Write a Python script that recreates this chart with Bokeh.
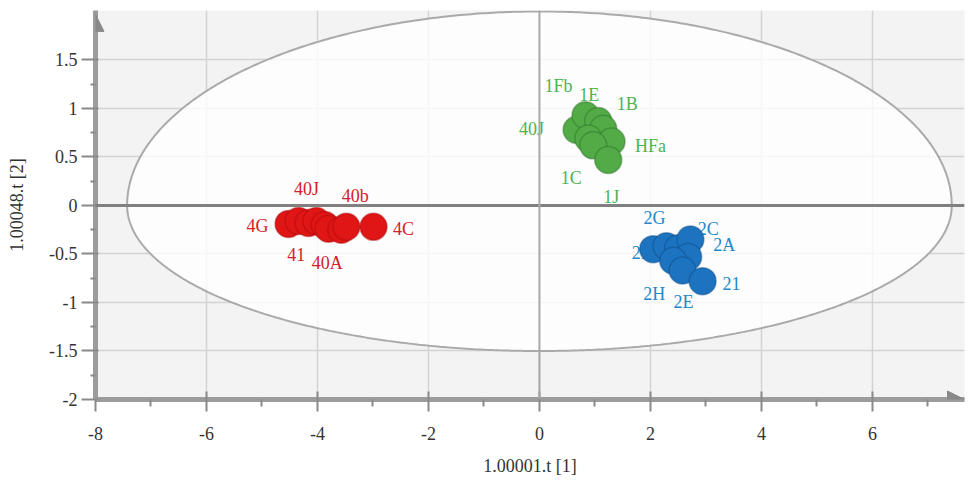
import numpy as np
from bokeh.plotting import figure
from bokeh.models import (FixedTicker, CustomJSTickFormatter, Span, Arrow,
                          NormalHead, ColumnDataSource)
from bokeh.embed import file_html
from bokeh.resources import INLINE
from bokeh.core.properties import value

# ---------------- data ----------------
red_names = ["4G", "", "40J", "41", "", "", "40A", "40b", "4C"]
red_x = [-4.52, -4.34, -4.16, -4.02, -3.87, -3.80, -3.57, -3.48, -2.99]
red_y = [-0.19, -0.16, -0.18, -0.16, -0.20, -0.24, -0.25, -0.22, -0.22]

green_names = ["40J", "1Fb", "1E", "1B", "", "HFa", "1C", "1J"]
green_x = [0.67, 0.83, 1.06, 1.15, 0.88, 1.30, 0.97, 1.24]
green_y = [0.78, 0.93, 0.87, 0.79, 0.69, 0.66, 0.62, 0.47]

blue_names = ["2I", "2G", "", "2C", "2A", "2H", "2E", "21"]
blue_x = [2.05, 2.29, 2.50, 2.72, 2.68, 2.41, 2.58, 2.94]
blue_y = [-0.45, -0.42, -0.44, -0.35, -0.53, -0.57, -0.67, -0.78]

x_ticks = [-8, -6, -4, -2, 0, 2, 4, 6]
x_minor = [-7, -5, -3, -1, 1, 3, 5, 7]
y_ticks = [-2, -1.5, -1, -0.5, 0, 0.5, 1, 1.5]
y_minor = [-1.75, -1.25, -0.75, -0.25, 0.25, 0.75, 1.25]

x_label = "1.00001.t [1]"
y_label = "1.00048.t [2]"

# ellipse (confidence region) parameters
ell_cx, ell_cy = 0.0, 0.0
ell_rx = 7.43
ell_ry_top, ell_ry_bottom = 2.0, 1.5

# axis extents
x_min, x_max = -8, 7.66
y_min, y_max = -2, 2.01

# ---------------- label offsets (px) ----------------
red_dx = [-31, 0, -2, -20, 0, 0, -14, 9, 30]
red_dy = [2, 0, -34, 33, 0, 0, 33, -31, 2]
green_dx = [-45, -27, -9, 24, 0, 39, -22, 3]
green_dy = [-1, -29, -26, -25, 0, 5, 33, 37]
blue_dx = [-14, -12, 0, 18, 36, -19, 1, 29]
blue_dy = [4, -28, 0, -10, -12, 33, 32, 2]

FONT = "Liberation Serif"

p = figure(width=965, height=481, output_backend="svg", toolbar_location=None,
           x_range=(x_min, x_max), y_range=(y_min, y_max),
           min_border_left=95, min_border_right=1, min_border_top=10,
           min_border_bottom=82)
p.background_fill_color = "#f3f3f3"
p.border_fill_color = "white"
p.outline_line_color = None

# axes
for ax in (p.xaxis[0], p.yaxis[0]):
    ax.axis_line_color = "#9c9c9c"
    ax.axis_line_width = 5
    ax.major_tick_line_color = "#8a8a8a"
    ax.major_tick_line_width = 2
    ax.minor_tick_line_color = "#8a8a8a"
    ax.minor_tick_line_width = 2
    ax.major_label_text_font = FONT
    ax.major_label_text_font_size = "18px"
    ax.major_label_text_color = "#333333"
    ax.axis_label_text_font = FONT
    ax.axis_label_text_font_size = "18px"
    ax.axis_label_text_font_style = "normal"
    ax.axis_label_text_color = "#333333"
    ax.formatter = CustomJSTickFormatter(code="return tick.toString();")

p.xaxis.ticker = FixedTicker(ticks=x_ticks, minor_ticks=x_minor)
p.yaxis.ticker = FixedTicker(ticks=y_ticks, minor_ticks=y_minor)
p.xaxis.axis_label = x_label
p.yaxis.axis_label = y_label

p.xaxis.major_tick_out = 12
p.xaxis.major_tick_in = 8
p.xaxis.minor_tick_out = 7
p.xaxis.minor_tick_in = 0
p.xaxis.major_label_standoff = 15
p.xaxis.axis_label_standoff = 13

p.yaxis.major_tick_out = 14
p.yaxis.major_tick_in = 3
p.yaxis.minor_tick_out = 5
p.yaxis.minor_tick_in = 0
p.yaxis.major_label_standoff = 4
p.yaxis.axis_label_standoff = 19

p.xgrid.grid_line_color = "#d3d3d3"
p.xgrid.grid_line_width = 1.5
p.ygrid.grid_line_color = "#d3d3d3"
p.ygrid.grid_line_width = 1.5

# ellipse
t = np.linspace(0, 2 * np.pi, 721)
s = np.sin(t)
ex = ell_cx + ell_rx * np.cos(t)
ey = ell_cy + np.where(s >= 0, ell_ry_top, ell_ry_bottom) * s
p.patch(ex, ey, fill_color="white", fill_alpha=0.8,
        line_color="#aaaaaa", line_width=2)

# zero lines
p.add_layout(Span(location=0, dimension="width", line_color="#808080", line_width=3))
p.add_layout(Span(location=0, dimension="height", line_color="#a8a8a8", line_width=2))

# arrow heads on axes
p.add_layout(Arrow(end=NormalHead(size=17, fill_color="#888888", line_color="#888888"),
                   x_start=x_max - 0.4, y_start=y_min, x_end=x_max, y_end=y_min,
                   line_alpha=0))
p.add_layout(Arrow(end=NormalHead(size=17, fill_color="#888888", line_color="#888888"),
                   x_start=x_min, y_start=y_max - 0.3, x_end=x_min, y_end=y_max - 0.04,
                   line_alpha=0))

groups = [
    (red_names, red_x, red_y, red_dx, red_dy, "#e01515", "#a80c0c", "#d4202a"),
    (green_names, green_x, green_y, green_dx, green_dy, "#52ab46", "#2c7228", "#4cb450"),
    (blue_names, blue_x, blue_y, blue_dx, blue_dy, "#1c74c0", "#0d4a86", "#2288cc"),
]

for names, xs, ys, dxs, dys, fill, line, tcol in groups:
    src = ColumnDataSource(dict(x=xs, y=ys, name=names, dx=dxs, dy=dys))
    p.text(x="x", y="y", text="name", x_offset="dx", y_offset="dy", source=src,
           text_font=value(FONT), text_font_size="18px", text_color=tcol,
           text_align="center", text_baseline="middle")
    p.scatter(x="x", y="y", source=src, size=27, fill_color=fill, fill_alpha=1.0,
              line_color=line, line_width=1.5, line_alpha=0.45)

open("out.html", "w").write(file_html(p, INLINE))
